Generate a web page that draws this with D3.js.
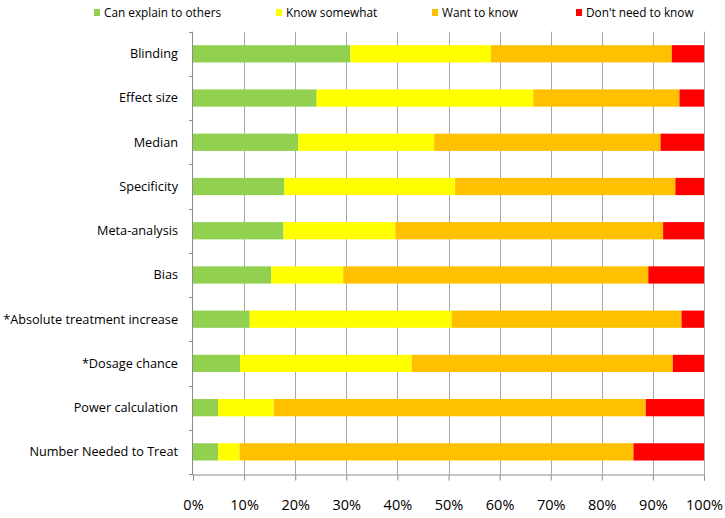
<!DOCTYPE html>
<html>
<head>
<meta charset="utf-8">
<script src="https://cdn.jsdelivr.net/npm/d3@7"></script>
<style>
  body { margin: 0; background: #fff; }
  svg { display: block; font-family: "Open Sans", sans-serif; }
</style>
</head>
<body>
<svg id="chart" width="725" height="518"></svg>
<script>
var w = 725
var h = 518

var cGreen = "#92D050"
var cYellow = "#FFFF00"
var cOrange = "#FFC000"
var cRed = "#FF0000"

// data (percent of respondents)
var categories = ["Blinding", "Effect size", "Median", "Specificity", "Meta-analysis", "Bias",
                  "*Absolute treatment increase", "*Dosage chance", "Power calculation", "Number Needed to Treat"]
var canExplain   = [30.8, 24.2, 20.6, 17.9, 17.7, 15.3, 11.1,  9.2,  4.9,  4.9]
var knowSomewhat = [27.5, 42.4, 26.6, 33.4, 21.9, 14.1, 39.5, 33.6, 10.9,  4.2]
var wantToKnow   = [35.4, 28.6, 44.3, 43.1, 52.4, 59.7, 45.0, 51.1, 72.8, 77.1]
var dontNeed     = [ 6.3,  4.8,  8.5,  5.6,  8.0, 10.9,  4.4,  6.1, 11.4, 13.8]
var seriesNames  = ["Can explain to others", "Know somewhat", "Want to know", "Don't need to know"]
var tickValues   = [0, 10, 20, 30, 40, 50, 60, 70, 80, 90, 100]

var seriesColors = [cGreen, cYellow, cOrange, cRed]
var keys = ["a", "b", "c", "d"]

var rows = categories.map(function(c, i) {
	return {name: c, a: canExplain[i], b: knowSomewhat[i], c: wantToKnow[i], d: dontNeed[i]}
})

// plot box (window.top is taken, so prefix these)
var plotLeft = 193, plotRight = 704, plotTop = 31.7, plotBottom = 474

var svg = d3.select("#chart")

var x = d3.scaleLinear().domain([0, 100]).range([plotLeft, plotRight])
var y = d3.scaleBand().domain(categories).range([plotTop, plotBottom])
		.paddingInner(0.61).paddingOuter(0.305)

// vertical gridlines
svg.append("g")
	.selectAll("line")
	.data(tickValues.slice(1))
	.enter()
	.append("line")
	.attr("x1", function(d) {return Math.round(x(d)) + 0.5})
	.attr("x2", function(d) {return Math.round(x(d)) + 0.5})
	.attr("y1", plotTop)
	.attr("y2", plotBottom)
	.attr("stroke", "#a6a6a6")
	.attr("stroke-width", 1)

// bars
var stacked = d3.stack().keys(keys)(rows)

svg.append("g")
	.selectAll("g")
	.data(stacked)
	.enter()
	.append("g")
	.attr("fill", function(d, i) {return seriesColors[i]})
	.selectAll("rect")
	.data(function(d) {return d})
	.enter()
	.append("rect")
	.attr("x", function(d) {return x(d[0])})
	.attr("y", function(d) {return y(d.data.name)})
	.attr("width", function(d) {return x(d[1]) - x(d[0])})
	.attr("height", y.bandwidth())

// bottom axis
var xAxis = d3.axisBottom(x)
		.tickValues(tickValues)
		.tickFormat(function(d) {return d + "%"})
		.tickSize(6)
		.tickPadding(19)

var gx = svg.append("g")
	.attr("transform", "translate(0," + (Math.round(plotBottom) + 0.5) + ")")
	.call(xAxis)
gx.select(".domain").attr("stroke", "#8c8c8c")
gx.selectAll(".tick line").attr("stroke", "#8c8c8c")
gx.selectAll(".tick text")
	.attr("font-family", "Open Sans")
	.attr("font-size", "14.5px")
	.attr("fill", "#000")

// left axis: ticks sit on the band edges, Excel style
var edges = d3.range(categories.length + 1).map(function(i) {return plotTop + i * y.step()})

svg.append("line")
	.attr("x1", plotLeft - 0.5).attr("x2", plotLeft - 0.5)
	.attr("y1", plotTop).attr("y2", plotBottom)
	.attr("stroke", "#8c8c8c")

svg.append("g")
	.selectAll("line")
	.data(edges)
	.enter()
	.append("line")
	.attr("x1", plotLeft - 4).attr("x2", plotLeft)
	.attr("y1", function(d) {return Math.round(d) + 0.5})
	.attr("y2", function(d) {return Math.round(d) + 0.5})
	.attr("stroke", "#8c8c8c")

svg.append("g")
	.selectAll("text")
	.data(categories)
	.enter()
	.append("text")
	.text(function(d) {return d})
	.attr("x", 178)
	.attr("y", function(d) {return y(d) + y.bandwidth() / 2})
	.attr("dy", "0.35em")
	.attr("text-anchor", "end")
	.attr("font-size", "12.7px")
	.attr("fill", "#000")

// legend
var legendX = [94, 276, 432, 576]

var legend = svg.append("g")
	.selectAll("g")
	.data(seriesNames)
	.enter()
	.append("g")
	.attr("transform", function(d, i) {return "translate(" + legendX[i] + ",0)"})

legend.append("rect")
	.attr("x", 0)
	.attr("y", 9)
	.attr("width", 6)
	.attr("height", 7)
	.attr("fill", function(d, i) {return seriesColors[i]})

legend.append("text")
	.text(function(d) {return d})
	.attr("x", 10)
	.attr("y", 12.5)
	.attr("dy", "0.35em")
	.attr("font-size", "11.8px")
	.attr("fill", "#000")
</script>
</body>
</html>
